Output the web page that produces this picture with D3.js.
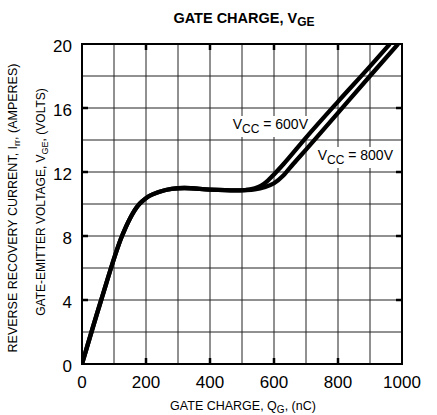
<!DOCTYPE html>
<html><head><meta charset="utf-8">
<script src="https://cdn.jsdelivr.net/npm/d3@7"></script>
<style>body{margin:0;background:#fff;} svg{display:block;font-family:"Liberation Sans",Arial,sans-serif;}</style>
</head><body>
<svg id="c" width="437" height="415"></svg>
<script>
const xTicks = [0, 200, 400, 600, 800, 1000];
const yTicks = [0, 4, 8, 12, 16, 20];
const xGrid = [0,100,200,300,400,500,600,700,800,900,1000];
const yGrid = [0,2,4,6,8,10,12,14,16,18,20];
const q600 = [0, 60, 125, 150, 175, 190, 210, 240, 280, 320, 400, 480, 510, 540, 560, 580, 600, 630, 700, 800, 900, 962];
const v600 = [0, 4, 8, 9.1, 9.9, 10.2, 10.5, 10.75, 10.95, 11.0, 10.9, 10.85, 10.87, 10.98, 11.15, 11.45, 11.85, 12.5, 14.15, 16.4, 18.6, 20];
const q800 = [0, 60, 125, 150, 175, 190, 210, 240, 280, 320, 400, 480, 510, 540, 570, 600, 630, 660, 700, 800, 900, 988];
const v800 = [0, 4, 8, 9.1, 9.9, 10.2, 10.5, 10.75, 10.95, 11.0, 10.9, 10.85, 10.87, 10.92, 11.05, 11.3, 11.8, 12.5, 13.4, 15.7, 18.0, 20];

const svg = d3.select("#c");
const L=82, R=402, T=44, B=364;
const x = d3.scaleLinear().domain([0,1000]).range([L,R]);
const y = d3.scaleLinear().domain([0,20]).range([B,T]);

// grid
svg.append("g").selectAll("line").data(xGrid).join("line")
  .attr("x1",d=>x(d)).attr("x2",d=>x(d)).attr("y1",T).attr("y2",B)
  .attr("stroke","#222").attr("stroke-width",1);
svg.append("g").selectAll("line").data(yGrid).join("line")
  .attr("y1",d=>y(d)).attr("y2",d=>y(d)).attr("x1",L).attr("x2",R)
  .attr("stroke","#222").attr("stroke-width",1);

// inner major ticks
const tl=6;
const yt = yTicks.filter(d=>d>0&&d<20), xt = xTicks.filter(d=>d>0&&d<1000);
const tk = svg.append("g").attr("stroke","#000").attr("stroke-width",2.5);
yt.forEach(d=>{
  tk.append("line").attr("x1",L).attr("x2",L+tl).attr("y1",y(d)).attr("y2",y(d));
  tk.append("line").attr("x1",R-tl).attr("x2",R).attr("y1",y(d)).attr("y2",y(d));
});
xt.forEach(d=>{
  tk.append("line").attr("x1",x(d)).attr("x2",x(d)).attr("y1",T).attr("y2",T+tl);
  tk.append("line").attr("x1",x(d)).attr("x2",x(d)).attr("y1",B-tl).attr("y2",B);
});

// labels with white background (under the curves)
function vccLabel(xe, yb, val){
  const g = svg.append("g");
  const bg = g.append("rect").attr("fill","#fff");
  const t = g.append("text").attr("font-size",14).attr("y",yb).attr("text-anchor","end").attr("x",xe);
  t.append("tspan").text("V");
  t.append("tspan").attr("font-size",12).attr("dy",4).text("CC");
  t.append("tspan").attr("dy",-4).text(" = " + val);
  const bb = t.node().getBBox();
  bg.attr("x",bb.x-1).attr("y",bb.y).attr("width",bb.width+2).attr("height",bb.height+1);
}
vccLabel(308, 129, "600V");
vccLabel(393, 160, "800V");

// curves
svg.append("clipPath").attr("id","pc").append("rect").attr("x",L).attr("y",T).attr("width",R-L).attr("height",B-T);
const line = d3.line().x(d=>x(d[0])).y(d=>y(d[1])).curve(d3.curveMonotoneX);
[[q600,v600],[q800,v800]].forEach(([q,v])=>{
  svg.append("path").attr("d",line(q.map((d,i)=>[d,v[i]])))
    .attr("fill","none").attr("stroke","#000").attr("stroke-width",4.3)
    .attr("clip-path","url(#pc)").attr("stroke-linejoin","round");
});

// border
svg.append("rect").attr("x",L).attr("y",T).attr("width",R-L).attr("height",B-T)
  .attr("fill","none").attr("stroke","#000").attr("stroke-width",2);

// tick labels
svg.append("g").selectAll("text").data(yTicks).join("text")
  .attr("x",72).attr("y",d=>y(d)+8).attr("text-anchor","end").attr("font-size",17).text(d=>d);
svg.append("g").selectAll("text").data(xTicks).join("text")
  .attr("x",d=>x(d)).attr("y",388).attr("text-anchor","middle").attr("font-size",17).text(d=>d);

// title
const tt = svg.append("text").attr("x",244).attr("y",23).attr("text-anchor","middle")
  .attr("font-size",14.5).attr("font-weight","bold");
tt.append("tspan").text("GATE CHARGE, V");
tt.append("tspan").attr("font-size",12).attr("dy",3).text("GE");

// x title
const xt2 = svg.append("text").attr("x",243).attr("y",410).attr("text-anchor","middle").attr("font-size",12.5);
xt2.append("tspan").text("GATE CHARGE, Q");
xt2.append("tspan").attr("font-size",10).attr("dy",3).text("G");
xt2.append("tspan").attr("dy",-3).text(", (nC)");

// y titles
const y1 = svg.append("text").attr("transform","translate(17,208) rotate(-90)").attr("text-anchor","middle").attr("font-size",12.5);
y1.append("tspan").text("REVERSE RECOVERY CURRENT, I");
y1.append("tspan").attr("font-size",9).attr("dy",3).text("rr");
y1.append("tspan").attr("dy",-3).text(", (AMPERES)");
const y2 = svg.append("text").attr("transform","translate(45,202) rotate(-90)").attr("text-anchor","middle").attr("font-size",12);
y2.append("tspan").text("GATE-EMITTER VOLTAGE, V");
y2.append("tspan").attr("font-size",9).attr("dy",3).text("GE");
y2.append("tspan").attr("dy",-3).text(", (VOLTS)");
</script>
</body></html>
